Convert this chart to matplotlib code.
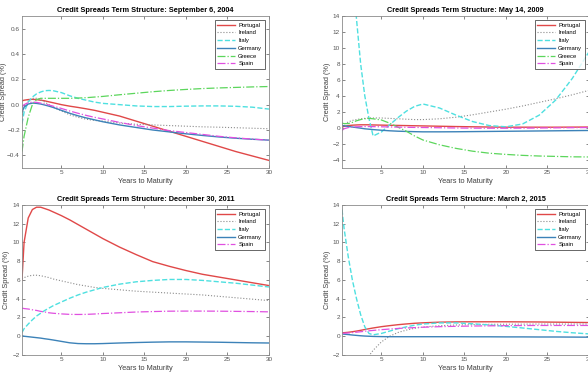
import matplotlib.pyplot as plt
import numpy as np

plt.rcParams.update({
    "font.family": ["Liberation Sans", "DejaVu Sans"],
    "font.size": 5,
    "axes.linewidth": 0.6,
})

# maturity grid (years) shared by all curves
mats = [0.25, 0.5, 1, 1.5, 2, 2.5, 3, 3.5, 4, 5, 6, 7, 8, 9, 10,
        12, 14, 16, 18, 20, 22, 24, 26, 28, 30]

## September 6, 2004
pt_2004 = [0.03, 0.035, 0.04, 0.042, 0.04, 0.035, 0.03, 0.022, 0.015, 0.0, -0.012, -0.022, -0.033, -0.045, -0.06,
           -0.09, -0.13, -0.17, -0.21, -0.25, -0.29, -0.33, -0.37, -0.405, -0.44]
ie_2004 = [-0.08, -0.02, 0.03, 0.05, 0.05, 0.04, 0.02, 0.0, -0.02, -0.05, -0.08, -0.10, -0.115, -0.125, -0.13,
           -0.145, -0.155, -0.16, -0.165, -0.17, -0.175, -0.178, -0.182, -0.186, -0.19]
it_2004 = [-0.15, -0.06, 0.02, 0.06, 0.085, 0.1, 0.11, 0.112, 0.11, 0.095, 0.07, 0.05, 0.035, 0.02, 0.01,
           0.0, -0.01, -0.015, -0.015, -0.012, -0.01, -0.01, -0.013, -0.02, -0.035]
de_2004 = [-0.06, -0.02, 0.005, 0.012, 0.01, 0.005, -0.003, -0.012, -0.022, -0.045, -0.068, -0.088, -0.105, -0.12, -0.135,
           -0.16, -0.18, -0.2, -0.215, -0.23, -0.243, -0.255, -0.265, -0.273, -0.28]
gr_2004 = [-0.37, -0.25, -0.1, 0.0, 0.04, 0.05, 0.05, 0.05, 0.05, 0.05, 0.05, 0.052, 0.055, 0.06, 0.065,
           0.078, 0.09, 0.102, 0.112, 0.12, 0.127, 0.132, 0.136, 0.14, 0.143]
es_2004 = [-0.02, 0.0, 0.015, 0.02, 0.018, 0.012, 0.005, -0.003, -0.012, -0.03, -0.05, -0.068, -0.085, -0.1, -0.113,
           -0.14, -0.165, -0.185, -0.205, -0.22, -0.235, -0.25, -0.262, -0.272, -0.28]

## May 14, 2009
pt_2009 = [0.1, 0.2, 0.3, 0.35, 0.38, 0.4, 0.4, 0.4, 0.38, 0.36, 0.34, 0.32, 0.3, 0.28, 0.26,
           0.22, 0.18, 0.15, 0.12, 0.1, 0.1, 0.1, 0.1, 0.11, 0.12]
ie_2009 = [0.3, 0.5, 0.75, 0.95, 1.05, 1.15, 1.2, 1.25, 1.25, 1.25, 1.2, 1.15, 1.1, 1.05, 1.05,
           1.15, 1.35, 1.65, 2.0, 2.35, 2.75, 3.2, 3.65, 4.15, 4.7]
it_2009 = [60, 45, 30, 20, 13.6, 8, 4, 1.2, -1.0, -0.5, 0.4, 1.3, 2.1, 2.7, 3.0,
           2.5, 1.6, 0.8, 0.3, 0.15, 0.5, 1.6, 3.5, 6.2, 9.5]
de_2009 = [0.3, 0.28, 0.2, 0.12, 0.05, -0.02, -0.1, -0.15, -0.2, -0.28, -0.35, -0.4, -0.43, -0.46, -0.48,
           -0.48, -0.47, -0.45, -0.43, -0.41, -0.39, -0.37, -0.35, -0.33, -0.31]
gr_2009 = [0.6, 0.55, 0.55, 0.7, 0.9, 1.05, 1.15, 1.2, 1.15, 1.0, 0.6, 0.1, -0.4, -1.0, -1.5,
           -2.1, -2.55, -2.9, -3.15, -3.3, -3.42, -3.5, -3.55, -3.6, -3.62]
es_2009 = [-0.3, -0.1, 0.05, 0.12, 0.15, 0.17, 0.18, 0.18, 0.17, 0.15, 0.13, 0.11, 0.09, 0.07, 0.06,
           0.03, 0.0, -0.02, -0.03, -0.03, -0.02, 0.0, 0.02, 0.04, 0.06]

## December 30, 2011
pt_2011 = [6.0, 10.0, 12.6, 13.5, 13.75, 13.75, 13.6, 13.45, 13.25, 12.85, 12.4, 11.9, 11.4, 10.9, 10.4,
           9.5, 8.7, 7.95, 7.45, 7.0, 6.6, 6.3, 6.0, 5.7, 5.4]
ie_2011 = [6.1, 6.25, 6.4, 6.5, 6.5, 6.45, 6.35, 6.25, 6.1, 5.9, 5.7, 5.5, 5.35, 5.2, 5.1,
           4.95, 4.8, 4.7, 4.6, 4.5, 4.4, 4.25, 4.1, 3.95, 3.8]
it_2011 = [0.4, 0.8, 1.3, 1.75, 2.15, 2.45, 2.75, 3.0, 3.25, 3.65, 4.05, 4.4, 4.7, 4.95, 5.2,
           5.55, 5.8, 5.95, 6.05, 6.05, 5.95, 5.8, 5.65, 5.45, 5.25]
de_2011 = [0.05, 0.0, -0.05, -0.1, -0.15, -0.2, -0.27, -0.33, -0.4, -0.55, -0.7, -0.78, -0.8, -0.8, -0.78,
           -0.72, -0.67, -0.63, -0.6, -0.6, -0.62, -0.64, -0.67, -0.7, -0.72]
es_2011 = [3.0, 2.95, 2.9, 2.82, 2.75, 2.65, 2.58, 2.5, 2.45, 2.38, 2.33, 2.32, 2.33, 2.37, 2.42,
           2.5, 2.58, 2.63, 2.67, 2.68, 2.68, 2.67, 2.65, 2.63, 2.6]

## March 2, 2015
pt_2015 = [0.35, 0.38, 0.42, 0.48, 0.55, 0.63, 0.72, 0.8, 0.88, 1.02, 1.13, 1.23, 1.31, 1.38, 1.43,
           1.5, 1.53, 1.54, 1.54, 1.54, 1.53, 1.52, 1.5, 1.48, 1.46]
ie_2015 = [-12, -10, -8, -6.5, -5, -3.8, -2.8, -2.1, -1.5, -0.6, 0.0, 0.4, 0.65, 0.85, 0.98,
           1.12, 1.2, 1.24, 1.27, 1.28, 1.29, 1.3, 1.3, 1.3, 1.3]
it_2015 = [13.5, 11.5, 8.5, 6.0, 4.0, 2.3, 1.0, 0.3, 0.15, 0.3, 0.55, 0.8, 1.0, 1.18, 1.3,
           1.42, 1.42, 1.33, 1.2, 1.05, 0.88, 0.7, 0.52, 0.37, 0.25]
de_2015 = [0.25, 0.22, 0.18, 0.13, 0.09, 0.05, 0.02, 0.0, -0.02, -0.04, -0.05, -0.05, -0.05, -0.05, -0.05,
           -0.05, -0.05, -0.06, -0.06, -0.07, -0.07, -0.08, -0.08, -0.09, -0.1]
es_2015 = [0.3, 0.32, 0.35, 0.39, 0.43, 0.48, 0.53, 0.58, 0.62, 0.7, 0.77, 0.83, 0.88, 0.92, 0.96,
           1.02, 1.06, 1.09, 1.11, 1.13, 1.14, 1.15, 1.15, 1.15, 1.15]

styles = {
    "Portugal": dict(color="#E04848", ls="-", lw=1.0),
    "Ireland": dict(color="#8C8C8C", ls=":", lw=0.8),
    "Italy": dict(color="#4EE0E0", ls="--", lw=1.0),
    "Germany": dict(color="#3C82B8", ls="-", lw=1.0),
    "Greece": dict(color="#5CD65C", ls="-.", lw=0.9),
    "Spain": dict(color="#E050E0", ls="-.", lw=0.9),
}


def plot_panel(ax, title, series, ylim, yticks):
    for name, vals in series:
        ax.plot(mats, vals, label=name, **styles[name])
    ax.set_xlim(0.25, 30)
    ax.set_ylim(*ylim)
    ax.set_xticks([5, 10, 15, 20, 25, 30])
    ax.set_yticks(yticks)
    ax.set_title(title, fontsize=5.3, fontweight="bold", pad=3)
    ax.set_xlabel("Years to Maturity", fontsize=5.3, color="#404040", labelpad=2)
    ax.set_ylabel("Credit Spread (%)", fontsize=5.3, color="#404040", labelpad=1)
    ax.tick_params(direction="in", length=2, width=0.5, top=True, right=True,
                   colors="#555555", labelsize=4.6, pad=1.5)
    for sp in ax.spines.values():
        sp.set_color("#8a8a8a")
    leg = ax.legend(loc="upper right", fontsize=4.2, frameon=True, fancybox=False,
                    borderpad=0.45, labelspacing=0.45, handlelength=3.0,
                    handletextpad=0.6, borderaxespad=0.7)
    leg.get_frame().set_edgecolor("#222222")
    leg.get_frame().set_linewidth(0.6)


fig = plt.figure(figsize=(5.88, 3.85), dpi=100)
w, h_top, h_bot = 0.42, 0.395, 0.39
ax1 = fig.add_axes([0.0374, 0.5636, w, h_top])
ax2 = fig.add_axes([0.5816, 0.5636, w, h_top])
ax3 = fig.add_axes([0.0374, 0.0779, w, h_bot])
ax4 = fig.add_axes([0.5816, 0.0779, w, h_bot])

plot_panel(ax1, "Credit Spreads Term Structure: September 6, 2004",
           [("Portugal", pt_2004), ("Ireland", ie_2004), ("Italy", it_2004),
            ("Germany", de_2004), ("Greece", gr_2004), ("Spain", es_2004)],
           (-0.5, 0.7), [-0.4, -0.2, 0, 0.2, 0.4, 0.6])
plot_panel(ax2, "Credit Spreads Term Structure: May 14, 2009",
           [("Portugal", pt_2009), ("Ireland", ie_2009), ("Italy", it_2009),
            ("Germany", de_2009), ("Greece", gr_2009), ("Spain", es_2009)],
           (-5, 14), list(range(-4, 15, 2)))
plot_panel(ax3, "Credit Spreads Term Structure: December 30, 2011",
           [("Portugal", pt_2011), ("Ireland", ie_2011), ("Italy", it_2011),
            ("Germany", de_2011), ("Spain", es_2011)],
           (-2, 14), list(range(-2, 15, 2)))
plot_panel(ax4, "Credit Spreads Term Structure: March 2, 2015",
           [("Portugal", pt_2015), ("Ireland", ie_2015), ("Italy", it_2015),
            ("Germany", de_2015), ("Spain", es_2015)],
           (-2, 14), list(range(-2, 15, 2)))

# left column: keep the y label just inside the figure edge
ax1.yaxis.set_label_coords(-0.060, 0.5)
ax3.yaxis.set_label_coords(-0.050, 0.5)

fig.savefig("out.png", dpi=100)
plt.close(fig)
